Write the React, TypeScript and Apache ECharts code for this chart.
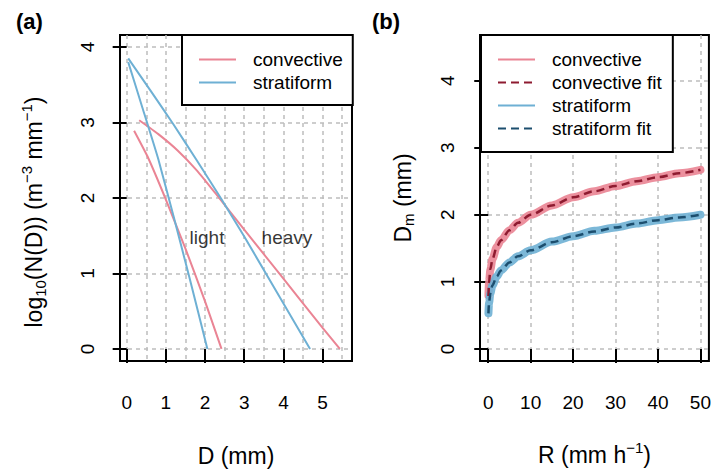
import React, { useEffect, useRef } from "react";
import * as echarts from "echarts";

// ---- tick labels ----
const dTicks = [0, 1, 2, 3, 4, 5];
const logNTicks = [0, 1, 2, 3, 4];
const rTicks = [0, 10, 20, 30, 40, 50];
const dmTicks = [0, 1, 2, 3, 4];

// ---- panel (a): log10 N(D) vs D ----
const convLightD = [0.19, 0.55, 1.0, 1.5, 2.0, 2.42];
const convLightLogN = [2.89, 2.53, 1.98, 1.33, 0.63, 0.0];
const convHeavyD = [0.32, 0.8, 1.3, 1.8, 2.3, 3.0, 4.0, 5.0, 5.44];
const convHeavyLogN = [3.03, 2.85, 2.63, 2.36, 2.04, 1.58, 0.93, 0.28, 0.0];
const stratLightD = [0.04, 0.4, 0.81, 1.2, 1.6, 2.06];
const stratLightLogN = [3.8, 3.2, 2.51, 1.75, 0.95, 0.0];
const stratHeavyD = [0.04, 0.6, 1.2, 1.8, 2.4, 3.0, 4.68];
const stratHeavyLogN = [3.85, 3.43, 2.97, 2.49, 2.0, 1.49, 0.0];
const noteNames = ["light", "heavy"];
const noteD = [2.05, 4.09];
const noteLogN = [1.47, 1.47];

// ---- panel (b): Dm vs R ----
const rainRate = [0.05, 0.2, 0.5, 1, 2, 3, 5, 7, 10, 15, 20, 25, 30, 35, 40, 45, 50];
const convDm = [0.8, 1.0, 1.18, 1.34, 1.52, 1.62, 1.77, 1.88, 2.0, 2.14, 2.26, 2.35, 2.43, 2.5, 2.56, 2.62, 2.67];
const convFitDm = [0.79, 0.99, 1.19, 1.34, 1.52, 1.62, 1.77, 1.88, 2.0, 2.14, 2.26, 2.35, 2.43, 2.5, 2.56, 2.62, 2.67];
const stratDm = [0.53, 0.69, 0.83, 0.95, 1.08, 1.17, 1.29, 1.38, 1.47, 1.6, 1.68, 1.76, 1.81, 1.87, 1.92, 1.96, 2.0];
const stratFitDm = [0.53, 0.69, 0.83, 0.95, 1.08, 1.17, 1.29, 1.38, 1.47, 1.59, 1.68, 1.75, 1.81, 1.87, 1.92, 1.96, 2.0];

const zip = (xs: number[], ys: number[]) => xs.map((x, i) => [x, ys[i]]);

const PINK = "#EA8494";
const BLUE = "#6EB0D4";
const DARKRED = "#8E1B30";
const DARKBLUE = "#1C4E6E";
const FONT = "Liberation Sans, Arial, sans-serif";

const gridLine = { show: true, lineStyle: { color: "#bdbdbd", width: 1.5, type: [4, 4] as any } };
const tick = (vals: number[]) => ({ show: true, inside: false, length: 14, customValues: vals, lineStyle: { color: "#000", width: 2 } });

export default function App() {
  const ref = useRef<HTMLDivElement>(null);
  useEffect(() => {
    if (!ref.current) return;
    const chart = echarts.init(ref.current, undefined, { renderer: "svg" });
    const supRich = {
      sub: { fontSize: 15, verticalAlign: "bottom", padding: [12, 0, 0, 0] },
      sup: { fontSize: 15, verticalAlign: "top", padding: [0, 0, 14, 0] },
    };
    const thin = (color: string) => ({ width: 2, color });
    const legendCommon = {
      orient: "vertical", itemWidth: 37, itemHeight: 14, itemGap: 4,
      borderColor: "#000", borderWidth: 2, backgroundColor: "#fff", selectedMode: false,
      itemStyle: { opacity: 0 },
      textStyle: { fontSize: 19, color: "#000", lineHeight: 19, padding: [0, 0, 0, 12] },
    };
    const distLine = (name: string, xs: number[], ys: number[], color: string) => ({
      type: "line", name, xAxisIndex: 0, yAxisIndex: 0, data: zip(xs, ys),
      showSymbol: false, symbol: "none", smooth: 0.15, lineStyle: thin(color), itemStyle: { color },
    });
    chart.setOption({
      animation: false,
      textStyle: { fontFamily: FONT },
      grid: [
        { left: 120, top: 35, width: 232, height: 326, show: true, borderColor: "#000", borderWidth: 2, backgroundColor: "transparent" },
        { left: 480, top: 35, width: 231, height: 326, show: true, borderColor: "#000", borderWidth: 2, backgroundColor: "transparent" },
      ],
      xAxis: [
        {
          type: "value", gridIndex: 0, min: -0.17, max: 5.75, minInterval: 1, maxInterval: 1,
          axisLine: { show: false }, axisTick: tick(dTicks),
          axisLabel: { customValues: dTicks, fontSize: 19, color: "#000", margin: 32 },
          splitLine: gridLine, minorTick: { show: false, splitNumber: 2 }, minorSplitLine: gridLine,
          name: "D (mm)", nameLocation: "middle", nameGap: 83, nameTextStyle: { fontSize: 23, color: "#000" },
        },
        {
          type: "value", gridIndex: 1, min: -1.94, max: 52, minInterval: 10, maxInterval: 10,
          axisLine: { show: false }, axisTick: tick(rTicks),
          axisLabel: { customValues: rTicks, fontSize: 19, color: "#000", margin: 32 },
          splitLine: gridLine,
          name: "R (mm h{sup|−1})", nameLocation: "middle", nameGap: 79,
          nameTextStyle: { fontSize: 23, color: "#000", rich: supRich },
        },
      ],
      yAxis: [
        {
          type: "value", gridIndex: 0, min: -0.16, max: 4.16, minInterval: 1, maxInterval: 1,
          axisLine: { show: false }, axisTick: tick(logNTicks),
          axisLabel: { customValues: logNTicks, fontSize: 19, color: "#000", margin: 23, rotate: 90 },
          splitLine: gridLine,
          name: "log{sub|10}(N(D)) (m{sup|−3} mm{sup|−1})", nameLocation: "middle", nameGap: 72,
          nameTextStyle: { fontSize: 23, color: "#000", rich: supRich, padding: [0, 28, 0, 0] },
        },
        {
          type: "value", gridIndex: 1, min: -0.18, max: 4.68, minInterval: 1, maxInterval: 1,
          axisLine: { show: false }, axisTick: tick(dmTicks),
          axisLabel: { customValues: dmTicks, fontSize: 19, color: "#000", margin: 23, rotate: 90 },
          splitLine: gridLine,
          name: "D{sub|m} (mm)", nameLocation: "middle", nameGap: 64,
          nameTextStyle: { fontSize: 23, color: "#000", rich: supRich },
        },
      ],
      legend: [
        { ...legendCommon, data: ["convective", "stratiform"], left: 182, top: 35, padding: [15, 10, 13, 16] },
        { ...legendCommon, data: ["convective", "convective fit", "stratiform", "stratiform fit"], left: 481, top: 35, padding: [15, 11, 14, 16] },
      ],
      graphic: [
        { type: "text", left: 16, top: 10, style: { text: "(a)", font: `bold 22px ${FONT}`, fill: "#000" } },
        { type: "text", left: 372, top: 10, style: { text: "(b)", font: `bold 22px ${FONT}`, fill: "#000" } },
      ],
      series: [
        distLine("convective", convLightD, convLightLogN, PINK),
        distLine("convective", convHeavyD, convHeavyLogN, PINK),
        distLine("stratiform", stratLightD, stratLightLogN, BLUE),
        distLine("stratiform", stratHeavyD, stratHeavyLogN, BLUE),
        {
          type: "scatter", name: "notes", xAxisIndex: 0, yAxisIndex: 0, silent: true, symbolSize: 1,
          itemStyle: { color: "rgba(0,0,0,0)" },
          data: noteNames.map((n, i) => ({ name: n, value: [noteD[i], noteLogN[i]] })),
          label: { show: true, position: "inside", formatter: "{b}", fontSize: 19, color: "#000" },
        },
        { type: "line", name: "convective", xAxisIndex: 1, yAxisIndex: 1, data: zip(rainRate, convDm), showSymbol: false, symbol: "none", smooth: 0.3, smoothMonotone: "x", lineStyle: { width: 8, color: PINK, opacity: 0.9, cap: "round" }, itemStyle: { color: PINK } },
        { type: "line", name: "stratiform", xAxisIndex: 1, yAxisIndex: 1, data: zip(rainRate, stratDm), showSymbol: false, symbol: "none", smooth: 0.3, smoothMonotone: "x", lineStyle: { width: 8, color: BLUE, opacity: 0.9, cap: "round" }, itemStyle: { color: BLUE } },
        { type: "line", name: "convective fit", xAxisIndex: 1, yAxisIndex: 1, data: zip(rainRate, convFitDm), showSymbol: false, symbol: "none", smooth: 0.3, smoothMonotone: "x", lineStyle: { width: 2.5, color: DARKRED, type: [8, 5] }, itemStyle: { color: DARKRED } },
        { type: "line", name: "stratiform fit", xAxisIndex: 1, yAxisIndex: 1, data: zip(rainRate, stratFitDm), showSymbol: false, symbol: "none", smooth: 0.3, smoothMonotone: "x", lineStyle: { width: 2.5, color: DARKBLUE, type: [8, 5] }, itemStyle: { color: DARKBLUE } },
      ],
    });
    return () => chart.dispose();
  }, []);
  return <div ref={ref} style={{ position: "absolute", left: 0, top: 0, width: 714, height: 472, background: "#fff" }} />;
}
